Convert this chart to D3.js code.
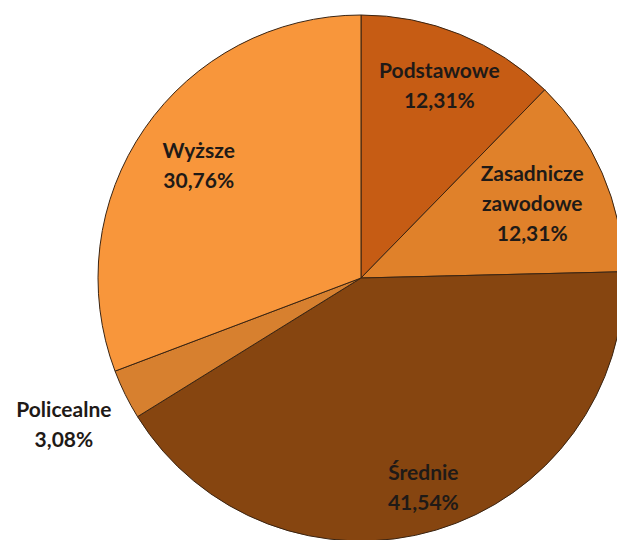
<!DOCTYPE html>
<html>
<head>
<meta charset="utf-8">
<script src="https://cdn.jsdelivr.net/npm/d3@7"></script>
<style>
  body { margin: 0; background: #fff; }
  svg { display: block; }
  text { font-family: Lato, "Open Sans", sans-serif; font-weight: bold; fill: #1f1a17; }
</style>
</head>
<body>
<svg id="chart"></svg>
<script>
// DATA
const categories = ['Podstawowe', 'Zasadnicze zawodowe', 'Średnie', 'Policealne', 'Wyższe'];
const shares = [12.31, 12.31, 41.54, 3.08, 30.76];
const labelLines = [
  ['Podstawowe'],
  ['Zasadnicze', 'zawodowe'],
  ['Średnie'],
  ['Policealne'],
  ['Wyższe'],
];

// STYLE
const colors = ['#c65c14', '#e0812a', '#864510', '#d7802f', '#f8963b'];
// label distance from centre, as a fraction of radius
const labelFactor = [0.79, 0.71, 0.83, 1.26, 0.75];

const width = 617;
const height = 540;
const cx = 361;
const cy = 278;
const radius = 263;
const fontSize = 21;
const lineHeight = 30;

const svg = d3.select('#chart').attr('width', width).attr('height', height);
const g = svg.append('g').attr('transform', `translate(${cx},${cy})`);

const pie = d3.pie().sort(null).value((d) => d.value);
const arcs = pie(categories.map((c, i) => ({ name: c, value: shares[i], idx: i })));
const arc = d3.arc().innerRadius(0).outerRadius(radius);

g.selectAll('path.slice')
  .data(arcs)
  .join('path')
  .attr('class', 'slice')
  .attr('d', arc)
  .attr('fill', (d) => colors[d.data.idx])
  .attr('stroke', '#3a2412')
  .attr('stroke-width', 1);

const fmt = (v) => v.toFixed(2).replace('.', ',') + '%';

const labels = g.selectAll('g.label')
  .data(arcs)
  .join('g')
  .attr('class', 'label')
  .attr('transform', (d) => {
    const r = radius * labelFactor[d.data.idx];
    const [x, y] = d3.arc().innerRadius(r).outerRadius(r).centroid(d);
    return `translate(${x},${y})`;
  });

labels.each(function (d) {
  const lines = labelLines[d.data.idx].concat([fmt(d.data.value)]);
  const t = d3.select(this).append('text')
    .attr('text-anchor', 'middle')
    .style('font-size', fontSize + 'px');
  const y0 = -((lines.length - 1) * lineHeight) / 2;
  lines.forEach((line, i) => {
    t.append('tspan')
      .attr('x', 0)
      .attr('y', y0 + i * lineHeight)
      .attr('dy', '0.35em')
      .text(line);
  });
});
</script>
</body>
</html>
